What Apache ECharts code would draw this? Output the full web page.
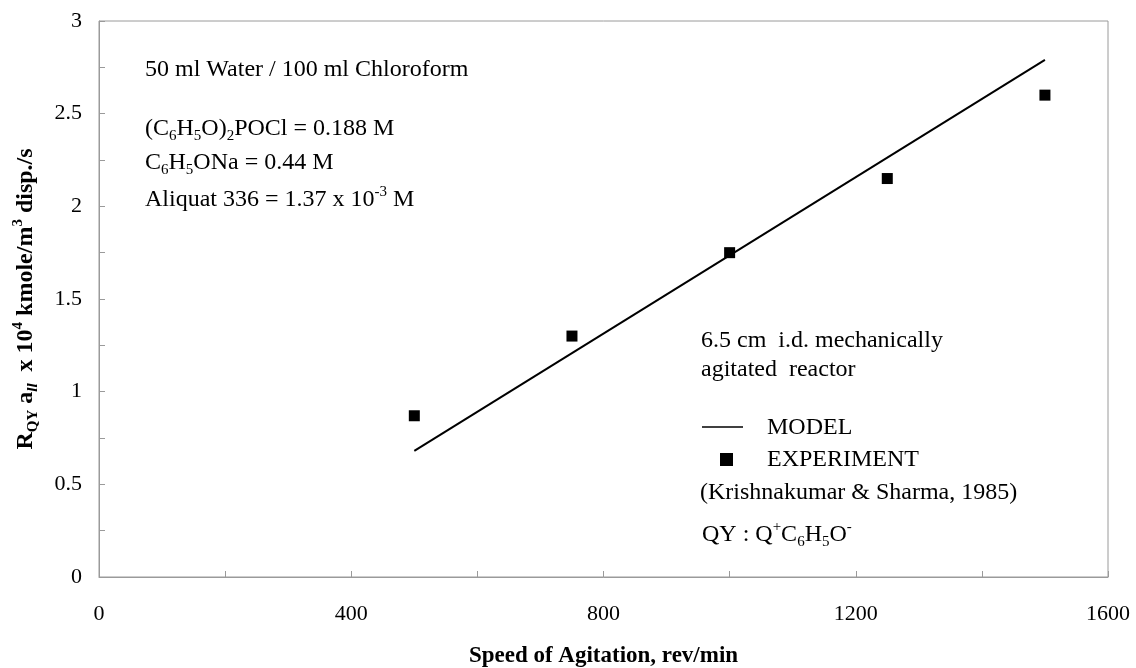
<!DOCTYPE html>
<html>
<head>
<meta charset="utf-8">
<script src="https://cdn.jsdelivr.net/npm/echarts@6/dist/echarts.min.js"></script>
<style>
  html, body { margin: 0; padding: 0; background: #fff; }
  #main { width: 1136px; height: 668px; }
</style>
</head>
<body>
<div id="main"></div>
<script>
const speed = [500, 750, 1000, 1250, 1500]
const experiment = [0.87, 1.30, 1.75, 2.15, 2.60]
const modelSpeed = [500, 1500]
const modelRate = [0.68, 2.79]
const xTickLabels = ['0', '400', '800', '1200', '1600']
const yTickLabels = ['0', '0.5', '1', '1.5', '2', '2.5', '3']

const font = 'Liberation Serif'
const grey = '#9a9a9a'

const myChart = echarts.init(document.getElementById('main'))

// rich styles for sub/superscripts
const txt = { fontSize: 24, lineHeight: 30, fontFamily: font, color: '#000' }
const sub = { fontSize: 15, lineHeight: 16, verticalAlign: 'bottom', fontFamily: font, color: '#000' }
const sup = { fontSize: 15, lineHeight: 16, verticalAlign: 'top', fontFamily: font, color: '#000' }
const richText = { t: txt, sub: sub, sup: sup }

function label(x, y, text) {
  return {
    type: 'text',
    x: x,
    y: y,
    style: { text: text, rich: richText, font: '24px ' + font, fill: '#000', verticalAlign: 'middle' }
  }
}

myChart.setOption({
  animation: false,
  grid: {
    left: 99, right: 28, top: 21, bottom: 91,
    outerBoundsMode: 'none',
    containLabel: false,
    show: true, borderColor: grey, borderWidth: 1
  },
  xAxis: {
    type: 'value',
    min: 0, max: 1600, interval: 200,
    name: 'Speed of Agitation, rev/min',
    nameLocation: 'middle',
    nameGap: 68,
    nameTextStyle: { fontFamily: font, fontSize: 23, fontWeight: 'bold', color: '#000' },
    axisLine: { lineStyle: { color: grey } },
    axisTick: { inside: true, length: 6, lineStyle: { color: grey } },
    splitLine: { show: false },
    axisLabel: {
      margin: 26,
      fontFamily: font, fontSize: 22, color: '#000',
      formatter: v => xTickLabels.includes(String(v)) ? String(v) : ''
    }
  },
  yAxis: {
    type: 'value',
    min: 0, max: 3, interval: 0.25,
    name: '{b|R}{bs|QY}{b| a}{bi|ll}{b|  x 10}{bp|4}{b| kmole/m}{bp|3}{b| disp./s}',
    nameLocation: 'middle',
    nameGap: 58,
    nameRotate: 90,
    nameTextStyle: {
      rich: {
        b: { fontFamily: font, fontSize: 24, fontWeight: 'bold', lineHeight: 30, color: '#000' },
        bs: { fontFamily: font, fontSize: 15, fontWeight: 'bold', lineHeight: 16, verticalAlign: 'bottom', color: '#000' },
        bi: { fontFamily: font, fontSize: 15, fontWeight: 'bold', fontStyle: 'italic', lineHeight: 16, verticalAlign: 'bottom', color: '#000' },
        bp: { fontFamily: font, fontSize: 15, fontWeight: 'bold', lineHeight: 16, verticalAlign: 'top', color: '#000' }
      }
    },
    axisLine: { lineStyle: { color: grey } },
    axisTick: { inside: true, length: 6, lineStyle: { color: grey } },
    splitLine: { show: false },
    axisLabel: {
      margin: 17,
      fontFamily: font, fontSize: 22, color: '#000',
      formatter: v => {
        const s = String(Math.round(v * 100) / 100)
        return yTickLabels.includes(s) ? s : ''
      }
    }
  },
  series: [
    {
      name: 'MODEL',
      type: 'line',
      data: modelSpeed.map((x, i) => [x, modelRate[i]]),
      showSymbol: false,
      lineStyle: { color: '#000', width: 2 }
    },
    {
      name: 'EXPERIMENT',
      type: 'scatter',
      data: speed.map((x, i) => [x, experiment[i]]),
      symbol: 'rect',
      symbolSize: 11,
      itemStyle: { color: '#000', opacity: 1 }
    }
  ],
  graphic: [
    label(145, 70, '{t|50 ml Water / 100 ml Chloroform}'),
    label(145, 129, '{t|(C}{sub|6}{t|H}{sub|5}{t|O)}{sub|2}{t|POCl = 0.188 M}'),
    label(145, 163, '{t|C}{sub|6}{t|H}{sub|5}{t|ONa = 0.44 M}'),
    label(145, 200, '{t|Aliquat 336 = 1.37 x 10}{sup|-3}{t| M}'),
    label(701, 341, '{t|6.5 cm  i.d. mechanically}'),
    label(701, 370, '{t|agitated  reactor}'),
    {
      type: 'line',
      shape: { x1: 702, y1: 427, x2: 743, y2: 427 },
      style: { stroke: '#000', lineWidth: 1.5 }
    },
    label(767, 428, '{t|MODEL}'),
    {
      type: 'rect',
      shape: { x: 720, y: 453, width: 13, height: 13 },
      style: { fill: '#000' }
    },
    label(767, 460, '{t|EXPERIMENT}'),
    label(700, 493, '{t|(Krishnakumar & Sharma, 1985)}'),
    label(702, 535, '{t|QY : Q}{sup|+}{t|C}{sub|6}{t|H}{sub|5}{t|O}{sup|-}')
  ]
})
</script>
</body>
</html>
